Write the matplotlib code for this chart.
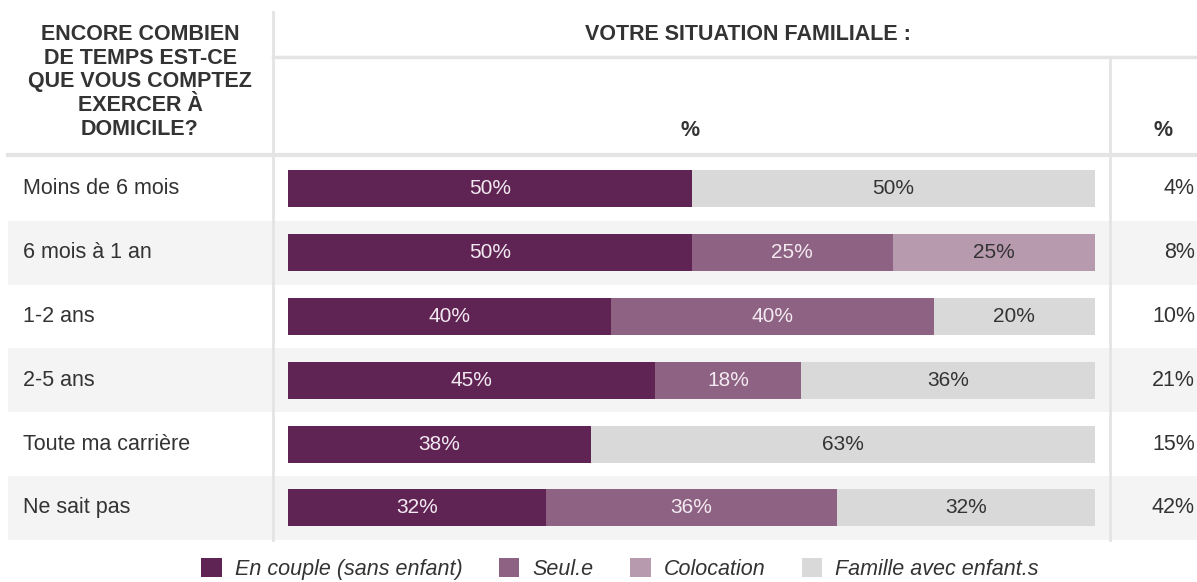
import matplotlib
matplotlib.use("Agg")
import matplotlib.pyplot as plt
from matplotlib.patches import Patch
import numpy as np

plt.rcParams['font.family'] = ['Liberation Sans', 'DejaVu Sans']

categories = ["Moins de 6 mois", "6 mois à 1 an", "1-2 ans", "2-5 ans",
              "Toute ma carrière", "Ne sait pas"]
series_names = ["En couple (sans enfant)", "Seul.e", "Colocation", "Famille avec enfant.s"]
en_couple = [50, 50, 40, 45.45, 37.5, 32]
seul = [0, 25, 40, 18.18, 0, 36]
colocation = [0, 25, 0, 0, 0, 0]
famille = [50, 0, 20, 36.36, 62.5, 32]
totals = ["4%", "8%", "10%", "21%", "15%", "42%"]

header_left = "ENCORE COMBIEN\nDE TEMPS EST-CE\nQUE VOUS COMPTEZ\nEXERCER À\nDOMICILE?"
header_top = "VOTRE SITUATION FAMILIALE :"

colors = ["#5f2454", "#8e6282", "#b89aae", "#d9d9d9"]
text_colors = ["#f3eaf1", "#f3eaf1", "#333333", "#333333"]
grid_c = "#e4e4e4"
txt_c = "#333333"
FS = 15.5

W, H = 1197, 582
fig = plt.figure(figsize=(W / 100, H / 100), dpi=100)

# background / layout axes in pixel coordinates
bg = fig.add_axes([0, 0, 1, 1])
bg.set_xlim(0, W)
bg.set_ylim(H, 0)
bg.axis("off")

row_top = 157
row_h = 63.8
n = len(categories)
for i in range(n):
    if i % 2 == 1:
        bg.fill_between([8, W], row_top + i * row_h, row_top + (i + 1) * row_h,
                        color="#f4f4f4", lw=0, zorder=0)

bg.plot([273, 273], [12, 540], color=grid_c, lw=2, zorder=1)
bg.plot([1110, 1110], [57, 540], color=grid_c, lw=2, zorder=1)
bg.plot([273, W], [57, 57], color=grid_c, lw=2.5, zorder=1)
bg.plot([8, W], [155, 155], color=grid_c, lw=3, zorder=1)

bg.text(140, 82, header_left, ha="center", va="center", fontsize=FS,
        fontweight="bold", color=txt_c, linespacing=1.17)
bg.text(748, 35, header_top, ha="center", va="center", fontsize=FS,
        fontweight="bold", color=txt_c)
bg.text(690, 130, "%", ha="center", va="center", fontsize=FS,
        fontweight="bold", color=txt_c)
bg.text(1163, 130, "%", ha="center", va="center", fontsize=FS,
        fontweight="bold", color=txt_c)

for i, (cat, tot) in enumerate(zip(categories, totals)):
    yc = row_top + (i + 0.5) * row_h
    bg.text(23, yc, cat, ha="left", va="center", fontsize=FS, color=txt_c)
    bg.text(1195, yc, tot, ha="right", va="center", fontsize=FS, color=txt_c)

# bar axes
x0, x1 = 288, 1095
y0, y1 = row_top, row_top + n * row_h
ax = fig.add_axes([x0 / W, (H - y1) / H, (x1 - x0) / W, (y1 - y0) / H])
ax.patch.set_alpha(0)
ax.set_xlim(0, 100)
ax.set_ylim(n - 0.5, -0.5)
ax.axis("off")

ypos = np.arange(n)
left = np.zeros(n)
for vals, col, tcol in zip([en_couple, seul, colocation, famille], colors, text_colors):
    vals = np.array(vals, dtype=float)
    ax.barh(ypos, vals, left=left, height=0.58, color=col, lw=0)
    for yi, (l, v) in enumerate(zip(left, vals)):
        if v > 0:
            ax.text(l + v / 2, yi, f"{int(v + 0.5)}%", ha="center", va="center",
                    fontsize=15, color=tcol)
    left += vals

handles = [Patch(facecolor=c, edgecolor="none") for c in colors]
fig.legend(handles, series_names, loc="center", bbox_to_anchor=(620 / W, 1 - 569 / H),
           ncol=4, frameon=False, prop={"style": "italic", "size": FS},
           handlelength=0.95, handleheight=0.95, handletextpad=0.6, columnspacing=1.7,
           labelcolor=txt_c, borderpad=0, borderaxespad=0)

fig.savefig("out.png", dpi=100)
